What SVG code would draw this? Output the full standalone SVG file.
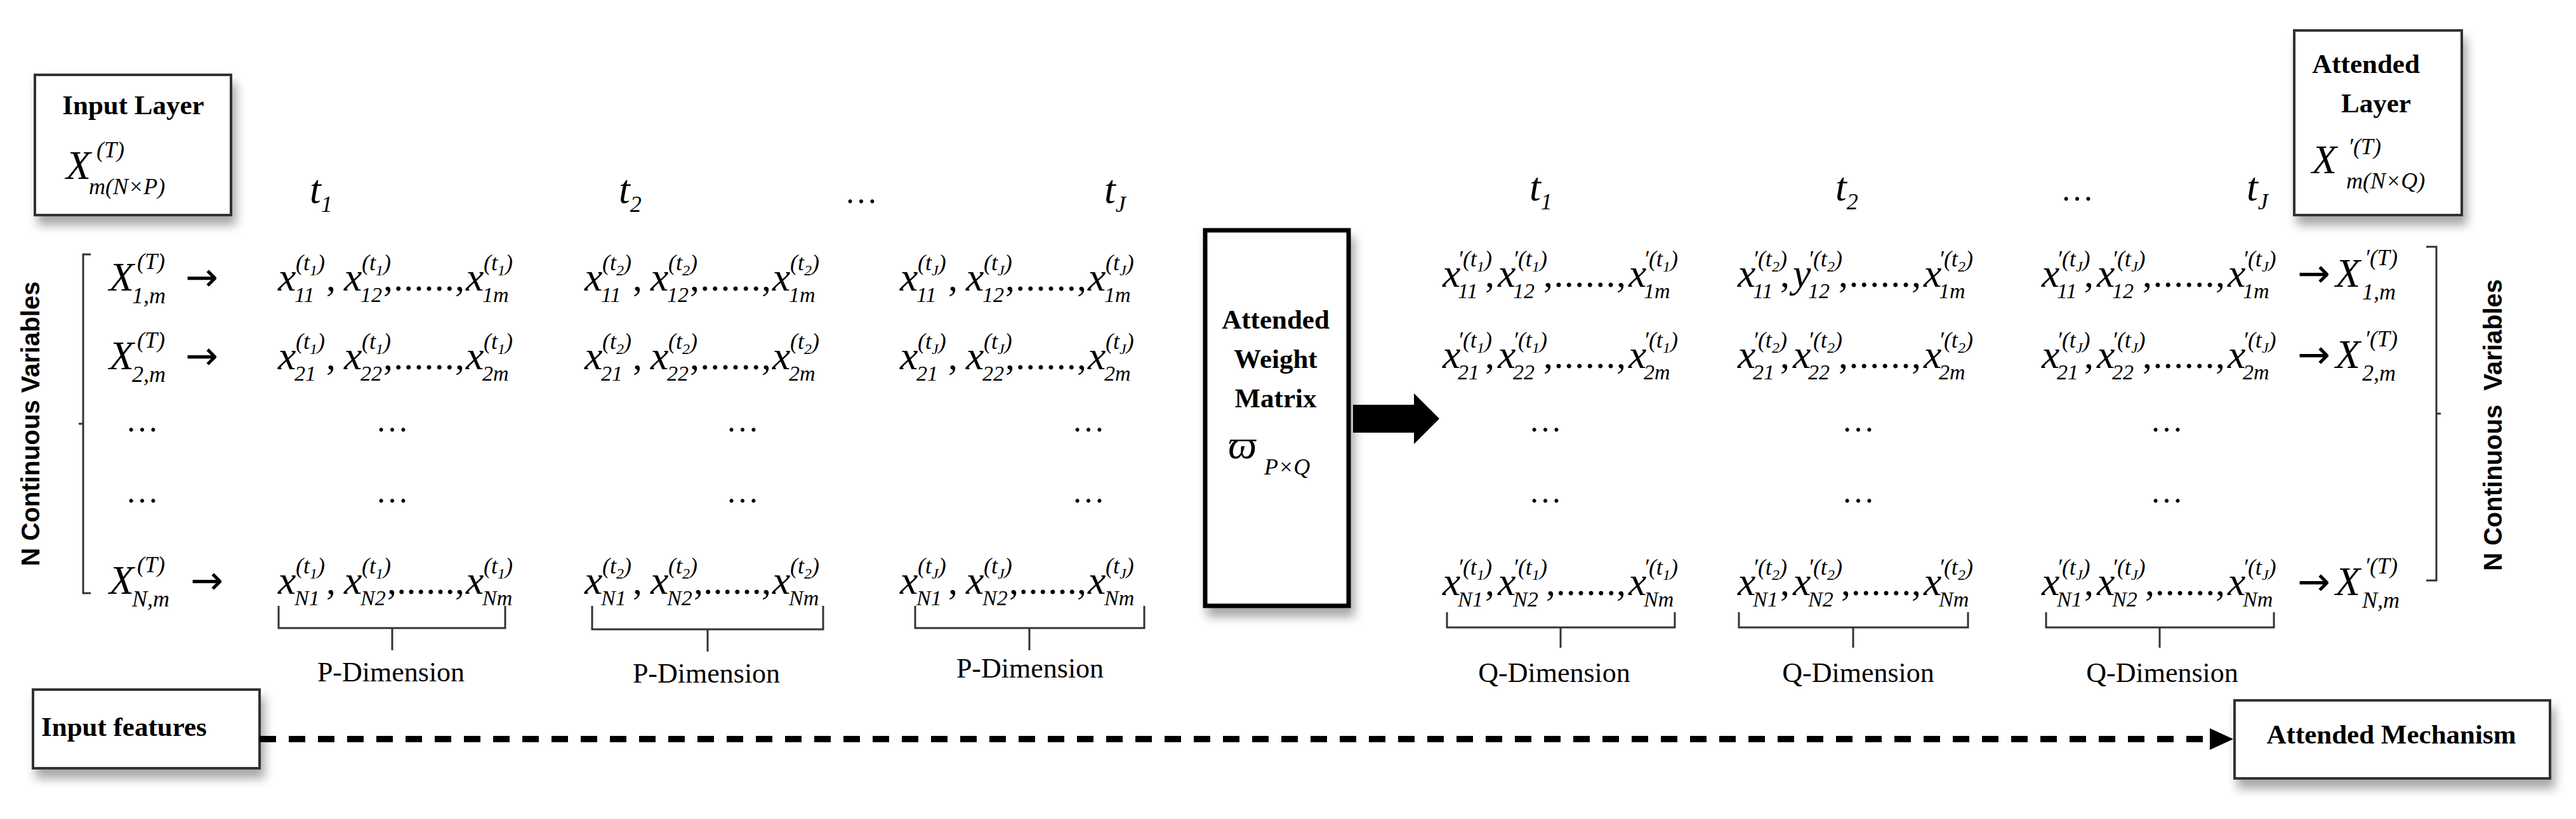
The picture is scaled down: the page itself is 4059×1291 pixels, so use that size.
<svg xmlns="http://www.w3.org/2000/svg" width="4059" height="1291" viewBox="0 0 4059 1291">
<defs>
<style>
.m{font-family:"Liberation Serif",serif;font-style:italic;font-size:64px;fill:#000}
.s{font-size:36px}
.k{font-size:24px}
.b{font-size:34px}
.c{font-family:"Liberation Serif",serif;font-size:60px;fill:#000}
.a{font-family:"DejaVu Sans",sans-serif;font-size:62px;fill:#000}
.d{font-family:"Liberation Serif",serif;font-size:52px;fill:#000;text-anchor:middle}
.h{font-family:"Liberation Serif",serif;font-weight:bold;font-size:43px;fill:#000}
.lab{font-family:"Liberation Serif",serif;font-size:44px;fill:#000;text-anchor:middle}
.rot{font-family:"Liberation Sans",sans-serif;font-weight:bold;font-size:40px;fill:#000;text-anchor:middle}
.box{fill:#fff;stroke:#333;stroke-width:4}
.br{fill:none;stroke:#333;stroke-width:3}
</style>
<filter id="sh" x="-20%" y="-20%" width="150%" height="150%"><feDropShadow dx="6" dy="14" stdDeviation="8" flood-color="#000" flood-opacity="0.35"/></filter>
</defs>

<g id="input-layer">
<rect class="box" x="55" y="118" width="309" height="221" filter="url(#sh)"/>
<text class="h" x="210" y="180" text-anchor="middle" font-size="44">Input Layer</text>
<text class="m" x="104" y="282" font-size="72">X<tspan class="s" x="152" y="248" font-size="40">(T)</tspan><tspan class="s" x="140" y="306" font-size="36">m(N×P)</tspan></text>
</g>

<g id="attended-layer">
<rect class="box" x="3615" y="48" width="264" height="291" filter="url(#sh)"/>
<text class="h" x="3728" y="115" text-anchor="middle">Attended</text>
<text class="h" x="3744" y="177" text-anchor="middle">Layer</text>
<text class="m" x="3643" y="273" font-size="72">X<tspan class="s" x="3700" y="243" font-size="40">′(T)</tspan><tspan class="s" x="3697" y="297" font-size="36">m(N×Q)</tspan></text>
</g>

<g id="weight-matrix">
<rect x="1899" y="363" width="226" height="592" fill="#fff" stroke="#000" stroke-width="7" filter="url(#sh)"/>
<text class="h" x="2010" y="518" text-anchor="middle">Attended</text>
<text class="h" x="2010" y="580" text-anchor="middle">Weight</text>
<text class="h" x="2010" y="642" text-anchor="middle">Matrix</text>
<text class="m" x="1935" y="722" font-size="76">ϖ<tspan class="s" x="1992" y="748">P×Q</tspan></text>
</g>

<g id="input-features">
<rect class="box" x="52" y="1087" width="357" height="124" filter="url(#sh)"/>
<text class="h" x="65" y="1160" font-size="44">Input features</text>
</g>

<g id="attended-mechanism">
<rect class="box" x="3521" y="1104" width="497" height="123" filter="url(#sh)"/>
<text class="h" x="3768" y="1172" text-anchor="middle" font-size="44">Attended Mechanism</text>
</g>

<g id="time-labels">
<text class="m" x="488" y="320" font-size="70">t<tspan class="s" dy="14">1</tspan></text>
<text class="m" x="975" y="320" font-size="70">t<tspan class="s" dy="14">2</tspan></text>
<text class="d" x="1357" y="320">…</text>
<text class="m" x="1740" y="320" font-size="70">t<tspan class="s" dy="14">J</tspan></text>
<text class="m" x="2410" y="316" font-size="70">t<tspan class="s" dy="14">1</tspan></text>
<text class="m" x="2892" y="316" font-size="70">t<tspan class="s" dy="14">2</tspan></text>
<text class="d" x="3273" y="316">…</text>
<text class="m" x="3540" y="316" font-size="70">t<tspan class="s" dy="14">J</tspan></text>
</g>

<g id="input-rows">
<text class="m" x="172" y="458" font-size="68">X<tspan class="s" x="216" y="424">(T)</tspan><tspan class="s" x="208" y="478">1,m</tspan></text>
<text class="a" x="292" y="458">→</text>
<text class="m" x="172" y="582" font-size="68">X<tspan class="s" x="216" y="548">(T)</tspan><tspan class="s" x="208" y="602">2,m</tspan></text>
<text class="a" x="292" y="582">→</text>
<text class="m" x="172" y="936" font-size="68">X<tspan class="s" x="216" y="902">(T)</tspan><tspan class="s" x="208" y="956">N,m</tspan></text>
<text class="a" x="300" y="936">→</text>
<text class="d" x="224" y="680">…</text><text class="d" x="224" y="792">…</text>
<text class="d" x="618" y="680">…</text><text class="d" x="618" y="792">…</text>
<text class="d" x="1170" y="680">…</text><text class="d" x="1170" y="792">…</text>
<text class="d" x="1715" y="680">…</text><text class="d" x="1715" y="792">…</text>
</g>

<g id="input-matrix">
<text class="m" x="438" y="458">x<tspan class="s" x="466" y="426">(t<tspan class="k" dy="8">1</tspan><tspan dy="-8">)</tspan></tspan><tspan class="b" x="464" y="476">11</tspan></text>
<text class="c" x="514" y="458">,</text>
<text class="m" x="542" y="458">x<tspan class="s" x="570" y="426">(t<tspan class="k" dy="8">1</tspan><tspan dy="-8">)</tspan></tspan><tspan class="b" x="568" y="476">12</tspan></text>
<text class="c" x="604" y="458" textLength="128" lengthAdjust="spacing">,......,</text>
<text class="m" x="734" y="458">x<tspan class="s" x="762" y="426">(t<tspan class="k" dy="8">1</tspan><tspan dy="-8">)</tspan></tspan><tspan class="b" x="760" y="476">1m</tspan></text>

<text class="m" x="438" y="582">x<tspan class="s" x="466" y="550">(t<tspan class="k" dy="8">1</tspan><tspan dy="-8">)</tspan></tspan><tspan class="b" x="464" y="600">21</tspan></text>
<text class="c" x="514" y="582">,</text>
<text class="m" x="542" y="582">x<tspan class="s" x="570" y="550">(t<tspan class="k" dy="8">1</tspan><tspan dy="-8">)</tspan></tspan><tspan class="b" x="568" y="600">22</tspan></text>
<text class="c" x="604" y="582" textLength="128" lengthAdjust="spacing">,......,</text>
<text class="m" x="734" y="582">x<tspan class="s" x="762" y="550">(t<tspan class="k" dy="8">1</tspan><tspan dy="-8">)</tspan></tspan><tspan class="b" x="760" y="600">2m</tspan></text>

<text class="m" x="438" y="936">x<tspan class="s" x="466" y="904">(t<tspan class="k" dy="8">1</tspan><tspan dy="-8">)</tspan></tspan><tspan class="b" x="464" y="954">N1</tspan></text>
<text class="c" x="514" y="936">,</text>
<text class="m" x="542" y="936">x<tspan class="s" x="570" y="904">(t<tspan class="k" dy="8">1</tspan><tspan dy="-8">)</tspan></tspan><tspan class="b" x="568" y="954">N2</tspan></text>
<text class="c" x="610" y="936" textLength="122" lengthAdjust="spacing">,......,</text>
<text class="m" x="734" y="936">x<tspan class="s" x="762" y="904">(t<tspan class="k" dy="8">1</tspan><tspan dy="-8">)</tspan></tspan><tspan class="b" x="760" y="954">Nm</tspan></text>

<text class="m" x="921" y="458">x<tspan class="s" x="949" y="426">(t<tspan class="k" dy="8">2</tspan><tspan dy="-8">)</tspan></tspan><tspan class="b" x="947" y="476">11</tspan></text>
<text class="c" x="997" y="458">,</text>
<text class="m" x="1025" y="458">x<tspan class="s" x="1053" y="426">(t<tspan class="k" dy="8">2</tspan><tspan dy="-8">)</tspan></tspan><tspan class="b" x="1051" y="476">12</tspan></text>
<text class="c" x="1087" y="458" textLength="128" lengthAdjust="spacing">,......,</text>
<text class="m" x="1217" y="458">x<tspan class="s" x="1245" y="426">(t<tspan class="k" dy="8">2</tspan><tspan dy="-8">)</tspan></tspan><tspan class="b" x="1243" y="476">1m</tspan></text>

<text class="m" x="921" y="582">x<tspan class="s" x="949" y="550">(t<tspan class="k" dy="8">2</tspan><tspan dy="-8">)</tspan></tspan><tspan class="b" x="947" y="600">21</tspan></text>
<text class="c" x="997" y="582">,</text>
<text class="m" x="1025" y="582">x<tspan class="s" x="1053" y="550">(t<tspan class="k" dy="8">2</tspan><tspan dy="-8">)</tspan></tspan><tspan class="b" x="1051" y="600">22</tspan></text>
<text class="c" x="1087" y="582" textLength="128" lengthAdjust="spacing">,......,</text>
<text class="m" x="1217" y="582">x<tspan class="s" x="1245" y="550">(t<tspan class="k" dy="8">2</tspan><tspan dy="-8">)</tspan></tspan><tspan class="b" x="1243" y="600">2m</tspan></text>

<text class="m" x="921" y="936">x<tspan class="s" x="949" y="904">(t<tspan class="k" dy="8">2</tspan><tspan dy="-8">)</tspan></tspan><tspan class="b" x="947" y="954">N1</tspan></text>
<text class="c" x="997" y="936">,</text>
<text class="m" x="1025" y="936">x<tspan class="s" x="1053" y="904">(t<tspan class="k" dy="8">2</tspan><tspan dy="-8">)</tspan></tspan><tspan class="b" x="1051" y="954">N2</tspan></text>
<text class="c" x="1093" y="936" textLength="122" lengthAdjust="spacing">,......,</text>
<text class="m" x="1217" y="936">x<tspan class="s" x="1245" y="904">(t<tspan class="k" dy="8">2</tspan><tspan dy="-8">)</tspan></tspan><tspan class="b" x="1243" y="954">Nm</tspan></text>

<text class="m" x="1418" y="458">x<tspan class="s" x="1446" y="426">(t<tspan class="k" dy="8">J</tspan><tspan dy="-8">)</tspan></tspan><tspan class="b" x="1444" y="476">11</tspan></text>
<text class="c" x="1494" y="458">,</text>
<text class="m" x="1522" y="458">x<tspan class="s" x="1550" y="426">(t<tspan class="k" dy="8">J</tspan><tspan dy="-8">)</tspan></tspan><tspan class="b" x="1548" y="476">12</tspan></text>
<text class="c" x="1584" y="458" textLength="128" lengthAdjust="spacing">,......,</text>
<text class="m" x="1714" y="458">x<tspan class="s" x="1742" y="426">(t<tspan class="k" dy="8">J</tspan><tspan dy="-8">)</tspan></tspan><tspan class="b" x="1740" y="476">1m</tspan></text>

<text class="m" x="1418" y="582">x<tspan class="s" x="1446" y="550">(t<tspan class="k" dy="8">J</tspan><tspan dy="-8">)</tspan></tspan><tspan class="b" x="1444" y="600">21</tspan></text>
<text class="c" x="1494" y="582">,</text>
<text class="m" x="1522" y="582">x<tspan class="s" x="1550" y="550">(t<tspan class="k" dy="8">J</tspan><tspan dy="-8">)</tspan></tspan><tspan class="b" x="1548" y="600">22</tspan></text>
<text class="c" x="1584" y="582" textLength="128" lengthAdjust="spacing">,......,</text>
<text class="m" x="1714" y="582">x<tspan class="s" x="1742" y="550">(t<tspan class="k" dy="8">J</tspan><tspan dy="-8">)</tspan></tspan><tspan class="b" x="1740" y="600">2m</tspan></text>

<text class="m" x="1418" y="936">x<tspan class="s" x="1446" y="904">(t<tspan class="k" dy="8">J</tspan><tspan dy="-8">)</tspan></tspan><tspan class="b" x="1444" y="954">N1</tspan></text>
<text class="c" x="1494" y="936">,</text>
<text class="m" x="1522" y="936">x<tspan class="s" x="1550" y="904">(t<tspan class="k" dy="8">J</tspan><tspan dy="-8">)</tspan></tspan><tspan class="b" x="1548" y="954">N2</tspan></text>
<text class="c" x="1590" y="936" textLength="122" lengthAdjust="spacing">,......,</text>
<text class="m" x="1714" y="936">x<tspan class="s" x="1742" y="904">(t<tspan class="k" dy="8">J</tspan><tspan dy="-8">)</tspan></tspan><tspan class="b" x="1740" y="954">Nm</tspan></text>
</g>

<g id="attended-matrix">
<text class="m" x="2273" y="452">x<tspan class="s" x="2297" y="420">′(t<tspan class="k" dy="8">1</tspan><tspan dy="-8">)</tspan></tspan><tspan class="b" x="2297" y="470">11</tspan></text>
<text class="c" x="2340" y="452">,</text>
<text class="m" x="2360" y="452">x<tspan class="s" x="2384" y="420">′(t<tspan class="k" dy="8">1</tspan><tspan dy="-8">)</tspan></tspan><tspan class="b" x="2384" y="470">12</tspan></text>
<text class="c" x="2432" y="452" textLength="130" lengthAdjust="spacing">,......,</text>
<text class="m" x="2566" y="452">x<tspan class="s" x="2590" y="420">′(t<tspan class="k" dy="8">1</tspan><tspan dy="-8">)</tspan></tspan><tspan class="b" x="2590" y="470">1m</tspan></text>

<text class="m" x="2273" y="580">x<tspan class="s" x="2297" y="548">′(t<tspan class="k" dy="8">1</tspan><tspan dy="-8">)</tspan></tspan><tspan class="b" x="2297" y="598">21</tspan></text>
<text class="c" x="2340" y="580">,</text>
<text class="m" x="2360" y="580">x<tspan class="s" x="2384" y="548">′(t<tspan class="k" dy="8">1</tspan><tspan dy="-8">)</tspan></tspan><tspan class="b" x="2384" y="598">22</tspan></text>
<text class="c" x="2432" y="580" textLength="130" lengthAdjust="spacing">,......,</text>
<text class="m" x="2566" y="580">x<tspan class="s" x="2590" y="548">′(t<tspan class="k" dy="8">1</tspan><tspan dy="-8">)</tspan></tspan><tspan class="b" x="2590" y="598">2m</tspan></text>

<text class="m" x="2273" y="938">x<tspan class="s" x="2297" y="906">′(t<tspan class="k" dy="8">1</tspan><tspan dy="-8">)</tspan></tspan><tspan class="b" x="2297" y="956">N1</tspan></text>
<text class="c" x="2340" y="938">,</text>
<text class="m" x="2360" y="938">x<tspan class="s" x="2384" y="906">′(t<tspan class="k" dy="8">1</tspan><tspan dy="-8">)</tspan></tspan><tspan class="b" x="2384" y="956">N2</tspan></text>
<text class="c" x="2436" y="938" textLength="126" lengthAdjust="spacing">,......,</text>
<text class="m" x="2566" y="938">x<tspan class="s" x="2590" y="906">′(t<tspan class="k" dy="8">1</tspan><tspan dy="-8">)</tspan></tspan><tspan class="b" x="2590" y="956">Nm</tspan></text>

<text class="m" x="2738" y="452">x<tspan class="s" x="2762" y="420">′(t<tspan class="k" dy="8">2</tspan><tspan dy="-8">)</tspan></tspan><tspan class="b" x="2762" y="470">11</tspan></text>
<text class="c" x="2805" y="452">,</text>
<text class="m" x="2825" y="452">y<tspan class="s" x="2849" y="420">′(t<tspan class="k" dy="8">2</tspan><tspan dy="-8">)</tspan></tspan><tspan class="b" x="2849" y="470">12</tspan></text>
<text class="c" x="2897" y="452" textLength="130" lengthAdjust="spacing">,......,</text>
<text class="m" x="3031" y="452">x<tspan class="s" x="3055" y="420">′(t<tspan class="k" dy="8">2</tspan><tspan dy="-8">)</tspan></tspan><tspan class="b" x="3055" y="470">1m</tspan></text>

<text class="m" x="2738" y="580">x<tspan class="s" x="2762" y="548">′(t<tspan class="k" dy="8">2</tspan><tspan dy="-8">)</tspan></tspan><tspan class="b" x="2762" y="598">21</tspan></text>
<text class="c" x="2805" y="580">,</text>
<text class="m" x="2825" y="580">x<tspan class="s" x="2849" y="548">′(t<tspan class="k" dy="8">2</tspan><tspan dy="-8">)</tspan></tspan><tspan class="b" x="2849" y="598">22</tspan></text>
<text class="c" x="2897" y="580" textLength="130" lengthAdjust="spacing">,......,</text>
<text class="m" x="3031" y="580">x<tspan class="s" x="3055" y="548">′(t<tspan class="k" dy="8">2</tspan><tspan dy="-8">)</tspan></tspan><tspan class="b" x="3055" y="598">2m</tspan></text>

<text class="m" x="2738" y="938">x<tspan class="s" x="2762" y="906">′(t<tspan class="k" dy="8">2</tspan><tspan dy="-8">)</tspan></tspan><tspan class="b" x="2762" y="956">N1</tspan></text>
<text class="c" x="2805" y="938">,</text>
<text class="m" x="2825" y="938">x<tspan class="s" x="2849" y="906">′(t<tspan class="k" dy="8">2</tspan><tspan dy="-8">)</tspan></tspan><tspan class="b" x="2849" y="956">N2</tspan></text>
<text class="c" x="2901" y="938" textLength="126" lengthAdjust="spacing">,......,</text>
<text class="m" x="3031" y="938">x<tspan class="s" x="3055" y="906">′(t<tspan class="k" dy="8">2</tspan><tspan dy="-8">)</tspan></tspan><tspan class="b" x="3055" y="956">Nm</tspan></text>

<text class="m" x="3217" y="452">x<tspan class="s" x="3241" y="420">′(t<tspan class="k" dy="8">J</tspan><tspan dy="-8">)</tspan></tspan><tspan class="b" x="3241" y="470">11</tspan></text>
<text class="c" x="3284" y="452">,</text>
<text class="m" x="3304" y="452">x<tspan class="s" x="3328" y="420">′(t<tspan class="k" dy="8">J</tspan><tspan dy="-8">)</tspan></tspan><tspan class="b" x="3328" y="470">12</tspan></text>
<text class="c" x="3376" y="452" textLength="130" lengthAdjust="spacing">,......,</text>
<text class="m" x="3510" y="452">x<tspan class="s" x="3534" y="420">′(t<tspan class="k" dy="8">J</tspan><tspan dy="-8">)</tspan></tspan><tspan class="b" x="3534" y="470">1m</tspan></text>

<text class="m" x="3217" y="580">x<tspan class="s" x="3241" y="548">′(t<tspan class="k" dy="8">J</tspan><tspan dy="-8">)</tspan></tspan><tspan class="b" x="3241" y="598">21</tspan></text>
<text class="c" x="3284" y="580">,</text>
<text class="m" x="3304" y="580">x<tspan class="s" x="3328" y="548">′(t<tspan class="k" dy="8">J</tspan><tspan dy="-8">)</tspan></tspan><tspan class="b" x="3328" y="598">22</tspan></text>
<text class="c" x="3376" y="580" textLength="130" lengthAdjust="spacing">,......,</text>
<text class="m" x="3510" y="580">x<tspan class="s" x="3534" y="548">′(t<tspan class="k" dy="8">J</tspan><tspan dy="-8">)</tspan></tspan><tspan class="b" x="3534" y="598">2m</tspan></text>

<text class="m" x="3217" y="938">x<tspan class="s" x="3241" y="906">′(t<tspan class="k" dy="8">J</tspan><tspan dy="-8">)</tspan></tspan><tspan class="b" x="3241" y="956">N1</tspan></text>
<text class="c" x="3284" y="938">,</text>
<text class="m" x="3304" y="938">x<tspan class="s" x="3328" y="906">′(t<tspan class="k" dy="8">J</tspan><tspan dy="-8">)</tspan></tspan><tspan class="b" x="3328" y="956">N2</tspan></text>
<text class="c" x="3380" y="938" textLength="126" lengthAdjust="spacing">,......,</text>
<text class="m" x="3510" y="938">x<tspan class="s" x="3534" y="906">′(t<tspan class="k" dy="8">J</tspan><tspan dy="-8">)</tspan></tspan><tspan class="b" x="3534" y="956">Nm</tspan></text>
</g>

<g id="attended-rows">
<text class="a" x="3620" y="452">→</text>
<text class="m" x="3680" y="452" font-size="68">X<tspan class="s" x="3726" y="418">′(T)</tspan><tspan class="s" x="3722" y="472">1,m</tspan></text>
<text class="a" x="3620" y="580">→</text>
<text class="m" x="3680" y="580" font-size="68">X<tspan class="s" x="3726" y="546">′(T)</tspan><tspan class="s" x="3722" y="600">2,m</tspan></text>
<text class="a" x="3620" y="938">→</text>
<text class="m" x="3680" y="938" font-size="68">X<tspan class="s" x="3726" y="904">′(T)</tspan><tspan class="s" x="3722" y="958">N,m</tspan></text>
<text class="d" x="2435" y="680">…</text><text class="d" x="2435" y="792">…</text>
<text class="d" x="2928" y="680">…</text><text class="d" x="2928" y="792">…</text>
<text class="d" x="3414" y="680">…</text><text class="d" x="3414" y="792">…</text>
</g>

<g id="variable-labels">
<path class="br" d="M143,401 H131 V935 H143 M131,668 H124"/>
<path class="br" d="M3823,389 H3839 V915 H3823 M3839,652 H3846"/>
<text class="rot" transform="translate(62,668) rotate(-90)">N Continuous Variables</text>
<text class="rot" transform="translate(3942,670) rotate(-90)" xml:space="preserve">N Continuous  Variables</text>
</g>

<g id="dimension-braces">
<path class="br" d="M439,955 V990 H796 V955 M618,990 V1025"/>
<path class="br" d="M933,955 V992 H1297 V955 M1115,992 V1027"/>
<path class="br" d="M1442,955 V990 H1803 V955 M1622,990 V1025"/>
<path class="br" d="M2280,965 V989 H2639 V965 M2459,989 V1021"/>
<path class="br" d="M2740,965 V989 H3101 V965 M2920,989 V1021"/>
<path class="br" d="M3224,965 V989 H3583 V965 M3403,989 V1021"/>
<text class="lab" x="616" y="1074">P-Dimension</text>
<text class="lab" x="1113" y="1076">P-Dimension</text>
<text class="lab" x="1623" y="1068">P-Dimension</text>
<text class="lab" x="2449" y="1075">Q-Dimension</text>
<text class="lab" x="2928" y="1075">Q-Dimension</text>
<text class="lab" x="3407" y="1075">Q-Dimension</text>
</g>

<g id="connectors">
<polygon points="2132,638 2228,638 2228,620 2268,660 2228,700 2228,682 2132,682" fill="#000"/>
<line x1="409" y1="1165" x2="3484" y2="1165" stroke="#000" stroke-width="10" stroke-dasharray="26 20"/>
<polygon points="3482,1148 3519,1165 3482,1182" fill="#000"/>
</g>
</svg>
